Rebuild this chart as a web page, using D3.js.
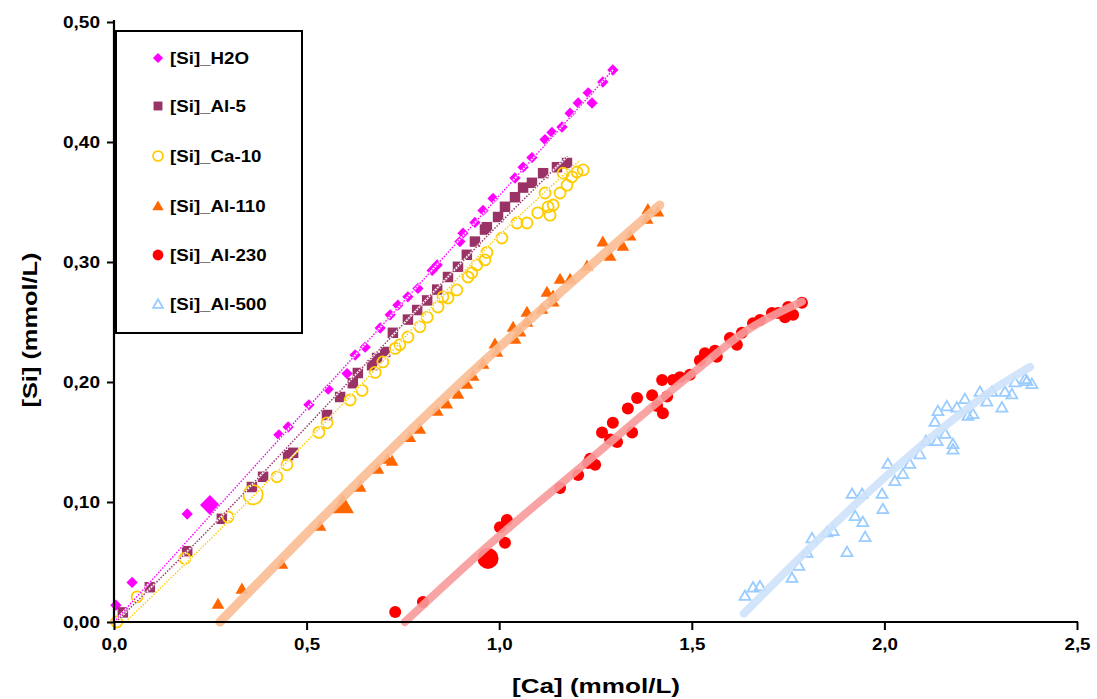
<!DOCTYPE html>
<html><head><meta charset="utf-8">
<script src="https://cdn.jsdelivr.net/npm/d3@7"></script>
<style>
html,body{margin:0;padding:0;background:#fff;}
svg text{font-family:"Liberation Sans",Arial,sans-serif;font-weight:bold;fill:#000;}
</style></head>
<body><svg id="c" width="1097" height="699"></svg>
<script>
// ---- data (x = [Ca] mmol/L, y = [Si] mmol/L) ----
const seriesNames = ["[Si]_H2O","[Si]_Al-5","[Si]_Ca-10","[Si]_Al-110","[Si]_Al-230","[Si]_Al-500"];
const xTicks = [0,0.5,1.0,1.5,2.0,2.5];
const yTicks = [0,0.1,0.2,0.3,0.4,0.5];

const siH2O = [[0.005,0.014],[0.047,0.033],[0.19,0.090],[0.428,0.156],[0.452,0.1625],[0.506,0.181],[0.556,0.194],[0.605,0.207],[0.626,0.2225],[0.652,0.229],[0.691,0.245],[0.717,0.256],[0.737,0.264],[0.763,0.271],[0.789,0.278],[0.826,0.293],[0.839,0.2975],[0.898,0.317],[0.906,0.324],[0.937,0.333],[0.958,0.343],[0.984,0.353],[1.041,0.370],[1.062,0.379],[1.085,0.387],[1.119,0.402],[1.137,0.408],[1.163,0.4125],[1.184,0.424],[1.205,0.4325],[1.231,0.441],[1.241,0.4325],[1.269,0.450],[1.295,0.460]];
const siH2OLarge = [[0.249,0.0975]];

const siAl5 = [[0.023,0.008],[0.093,0.029],[0.19,0.059],[0.28,0.086],[0.358,0.1125],[0.387,0.121],[0.452,0.139],[0.465,0.141],[0.553,0.1725],[0.587,0.1875],[0.62,0.199],[0.633,0.2075],[0.67,0.214],[0.683,0.22],[0.704,0.225],[0.724,0.241],[0.763,0.252],[0.787,0.26],[0.813,0.268],[0.839,0.277],[0.867,0.2875],[0.893,0.296],[0.916,0.306],[0.937,0.317],[0.963,0.327],[0.968,0.329],[0.997,0.3375],[1.015,0.346],[1.041,0.354],[1.062,0.362],[1.085,0.366],[1.114,0.374],[1.15,0.379],[1.176,0.3825]];
const siAl5Large = [];

const siCa10 = [[0.007,0.0],[0.06,0.021],[0.184,0.053],[0.296,0.0875],[0.423,0.121],[0.449,0.131],[0.532,0.158],[0.553,0.166],[0.613,0.185],[0.644,0.193],[0.678,0.208],[0.698,0.2167],[0.73,0.228],[0.742,0.231],[0.763,0.2375],[0.794,0.246],[0.813,0.254],[0.841,0.2625],[0.854,0.271],[0.867,0.27],[0.89,0.2767],[0.919,0.2875],[0.929,0.291],[0.942,0.2975],[0.963,0.3017],[0.968,0.308],[1.007,0.32],[1.046,0.3325],[1.072,0.3325],[1.1,0.341],[1.132,0.339],[1.127,0.346],[1.14,0.3475],[1.119,0.3575],[1.158,0.3575],[1.176,0.364],[1.166,0.374],[1.189,0.371],[1.202,0.375],[1.218,0.3767]];
const siCa10Large = [[0.361,0.106]];

const siAl110 = [[0.27,0.014],[0.332,0.0267],[0.436,0.0475],[0.535,0.079],[0.639,0.1117],[0.685,0.1267],[0.722,0.1333],[0.71,0.135],[0.768,0.153],[0.794,0.16],[0.839,0.175],[0.864,0.181],[0.893,0.189],[0.916,0.1975],[0.932,0.204],[0.958,0.214],[0.989,0.231],[0.994,0.224],[1.036,0.245],[1.041,0.235],[1.054,0.241],[1.072,0.249],[1.072,0.2575],[1.111,0.26],[1.124,0.274],[1.14,0.266],[1.14,0.271],[1.158,0.285],[1.184,0.285],[1.228,0.296],[1.269,0.316],[1.288,0.304],[1.321,0.3125],[1.34,0.321],[1.384,0.335],[1.386,0.343],[1.412,0.341]];
const siAl110Large = [[0.594,0.096]];

const siAl230 = [[0.73,0.0083],[0.802,0.0167],[1.015,0.066],[1.002,0.079],[1.02,0.085],[1.158,0.1117],[1.205,0.1225],[1.231,0.1325],[1.249,0.131],[1.236,0.136],[1.267,0.158],[1.295,0.166],[1.306,0.15],[1.288,0.152],[1.334,0.178],[1.345,0.158],[1.358,0.1867],[1.397,0.189],[1.425,0.174],[1.41,0.18],[1.423,0.2017],[1.436,0.188],[1.451,0.2017],[1.469,0.204],[1.495,0.206],[1.521,0.218],[1.534,0.224],[1.565,0.221],[1.56,0.226],[1.599,0.2367],[1.617,0.231],[1.63,0.241],[1.659,0.249],[1.677,0.2517],[1.708,0.2575],[1.724,0.2575],[1.742,0.254],[1.763,0.256],[1.75,0.2625],[1.786,0.266]];
const siAl230Large = [[0.971,0.053]];

const siAl500 = [[1.638,0.021],[1.659,0.028],[1.677,0.029],[1.76,0.036],[1.778,0.046],[1.799,0.057],[1.812,0.069],[1.851,0.074],[1.867,0.075],[1.903,0.0575],[1.916,0.106],[1.942,0.106],[1.924,0.0875],[1.944,0.0825],[1.95,0.07],[1.994,0.106],[1.996,0.0933],[2.009,0.131],[2.027,0.1167],[2.048,0.1225],[2.066,0.131],[2.092,0.139],[2.108,0.15],[2.137,0.15],[2.158,0.156],[2.178,0.1475],[2.178,0.143],[2.131,0.166],[2.139,0.175],[2.162,0.179],[2.188,0.178],[2.209,0.185],[2.217,0.171],[2.23,0.1725],[2.248,0.191],[2.266,0.183],[2.279,0.191],[2.305,0.178],[2.313,0.191],[2.331,0.189],[2.339,0.199],[2.365,0.2017],[2.37,0.2],[2.383,0.1975]];
const siAl500Large = [];

// trend lines
const trendH2O = [[0.0,0.0],[1.295,0.46]];
const trendAl5 = [[0.005,0.0],[0.2,0.062],[0.646,0.2125],[0.976,0.324],[1.177,0.388]];
const trendCa10 = [[0.03,0.0],[0.3,0.085],[0.683,0.212],[0.968,0.312],[1.21,0.385]];
const trendAl110 = [[0.275,0.0],[0.535,0.085],[0.872,0.191],[1.166,0.2767],[1.417,0.3475]];
const trendAl230 = [[0.755,0.0],[0.95,0.0575],[1.243,0.1375],[1.503,0.2075],[1.643,0.243],[1.786,0.267]];
const trendAl500 = [[1.635,0.007],[1.918,0.096],[2.092,0.146],[2.308,0.199],[2.378,0.2125]];

// ---- drawing ----
const svg = d3.select("#c");
const x = d3.scaleLinear().domain([0,2.5]).range([114,1077]);
const y = d3.scaleLinear().domain([0,0.5]).range([622,22]);
const fmt = (d,dec)=>d.toFixed(dec).replace(".",",");

const styles = [
  {color:"#ff00ff", shape:"diamond", fill:true, pts:siH2O, big:siH2OLarge, trend:trendH2O, thin:true},
  {color:"#993366", shape:"square", fill:true, pts:siAl5, big:siAl5Large, trend:trendAl5, thin:true},
  {color:"#ffcc00", shape:"circle", fill:false, pts:siCa10, big:siCa10Large, trend:trendCa10, thin:true},
  {color:"#ff6600", shape:"triangle", fill:true, pts:siAl110, big:siAl110Large, trend:trendAl110, thin:false, tcolor:"#f9bd94", tw:9},
  {color:"#ff0000", shape:"circle", fill:true, pts:siAl230, big:siAl230Large, trend:trendAl230, thin:false, tcolor:"#f79a9a", tw:8},
  {color:"#99ccff", shape:"triangle", fill:false, pts:siAl500, big:siAl500Large, trend:trendAl500, thin:false, tcolor:"#cde2fb", tw:8}
];

function markerPath(st, scale){
  const s = scale||1;
  if(st.shape==="diamond") return d3.symbol(d3.symbolSquare, 64*s*s)();
  if(st.shape==="square") return d3.symbol(d3.symbolSquare, 110*s*s)();
  if(st.shape==="triangle") return d3.symbol(d3.symbolTriangle, (st.fill?70:52)*s*s)();
  const r = st.fill?6:5.5;
  return d3.symbol(d3.symbolCircle, Math.PI*r*r*s*s)();
}
function drawMarker(g, st, cx, cy, scale){
  const p = g.append("path").attr("d", markerPath(st, scale))
    .attr("transform", `translate(${cx},${cy})` + (st.shape==="diamond"?" rotate(45)":""));
  if(st.fill) p.attr("fill", st.color).attr("stroke","none");
  else p.attr("fill","none").attr("stroke", st.color).attr("stroke-width",1.8);
}

const line = d3.line().x(d=>x(d[0])).y(d=>y(d[1])).curve(d3.curveMonotoneX);
const plot = svg.append("g");
styles.forEach(st=>{
  const g = plot.append("g");
  st.pts.forEach(d=>drawMarker(g, st, x(d[0]), y(d[1]), 1));
  st.big.forEach(d=>drawMarker(g, st, x(d[0]), y(d[1]), 1.75));
});
styles.forEach(st=>{
  if(st.thin){
    plot.append("path").attr("d", line(st.trend)).attr("fill","none").attr("stroke","#fff").attr("stroke-width",1.8);
    plot.append("path").attr("d", line(st.trend)).attr("fill","none").attr("stroke",st.color).attr("stroke-width",1.4).attr("stroke-dasharray","1.5,1.5");
  } else {
    plot.append("path").attr("d", line(st.trend)).attr("fill","none").attr("stroke",st.tcolor)
      .attr("stroke-width",st.tw).attr("stroke-linecap","round").attr("opacity",0.9);
  }
});

// axes
const xAxis = d3.axisBottom(x).tickValues(xTicks).tickSize(8).tickFormat(d=>fmt(d,1));
const yAxis = d3.axisLeft(y).tickValues(yTicks).tickSize(7).tickFormat(d=>fmt(d,2));
const gx = svg.append("g").attr("transform","translate(0,622)").call(xAxis);
const gy = svg.append("g").attr("transform","translate(114,0)").call(yAxis);
[gx,gy].forEach(g=>{
  g.select(".domain").attr("stroke","#000").attr("stroke-width",2.2);
  g.selectAll(".tick line").attr("stroke","#000").attr("stroke-width",2);
  g.selectAll(".tick text").style("font-size","16px").style("font-weight","bold").attr("fill","#000");
});
gx.select(".domain").attr("d","M114,0H1078");
gy.select(".domain").attr("d","M0,622V20");
gx.selectAll(".tick text").attr("y",17).attr("textLength",26).attr("lengthAdjust","spacingAndGlyphs");
gy.selectAll(".tick text").attr("x",-14).attr("textLength",37).attr("lengthAdjust","spacingAndGlyphs");

// axis titles
svg.append("text").attr("x",596).attr("y",693).attr("text-anchor","middle")
  .style("font-size","21px").attr("textLength",168).attr("lengthAdjust","spacingAndGlyphs").text("[Ca] (mmol/L)");
svg.append("text").attr("transform","translate(37,330) rotate(-90)").attr("text-anchor","middle")
  .style("font-size","21px").attr("textLength",155).attr("lengthAdjust","spacingAndGlyphs").text("[Si] (mmol/L)");

// legend
const lg = svg.append("g");
lg.append("rect").attr("x",116).attr("y",31).attr("width",186).attr("height",302)
  .attr("fill","#fff").attr("stroke","#000").attr("stroke-width",2);
const legY = [58,106,156,206,255,304];
styles.forEach((st,i)=>{
  drawMarker(lg, st, 158, legY[i]+(st.shape==="triangle"?1:0), st.shape==="square"?0.85:0.9);
  const t = lg.append("text").attr("x",170).attr("y",legY[i]+6).style("font-size","17px").text(seriesNames[i]);
  const w = t.node().getComputedTextLength();
  t.attr("textLength", w*1.1).attr("lengthAdjust","spacingAndGlyphs");
});
</script></body></html>
